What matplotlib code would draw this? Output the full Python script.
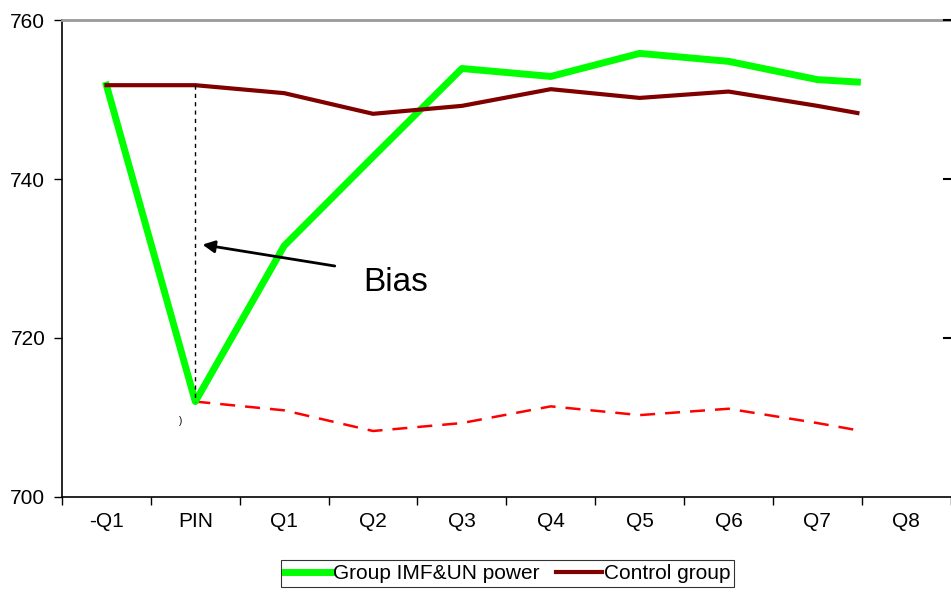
import matplotlib
matplotlib.use("Agg")
import matplotlib.pyplot as plt

# categories and series
categories = ["-Q1", "PIN", "Q1", "Q2", "Q3", "Q4", "Q5", "Q6", "Q7", "Q8"]
x_pos = [0, 1, 2, 3, 4, 5, 6, 7, 8, 8.45]
imf_un = [751.8, 712.0, 731.6, 742.8, 753.9, 752.9, 755.8, 754.8, 752.5, 752.2]
control = [751.8, 751.8, 750.8, 748.2, 749.2, 751.3, 750.2, 751.0, 749.2, 748.3]
x_shifted = x_pos[1:]
control_shifted = [712.0, 710.9, 708.3, 709.3, 711.4, 710.3, 711.1, 709.3, 708.4]
y_ticks = [700, 720, 740, 760]

plt.rcParams["font.family"] = ["Liberation Sans", "DejaVu Sans"]

fig = plt.figure(figsize=(9.51, 5.92), dpi=100)
ax = fig.add_axes([0.0652, 0.1605, 0.9345, 0.8057])

ax.plot(x_shifted, control_shifted, color="#ff0000", lw=1.8, dashes=(6, 4), zorder=2)
ax.plot(x_pos, imf_un, color="#00ff00", lw=5, label="Group IMF&UN power", zorder=3)
ax.plot(x_pos, control, color="#800000", lw=3, label="Control group", zorder=4)

# bias marker: dashed drop from control to treatment at PIN
ax.plot([x_pos[1], x_pos[1]], [control[1], imf_un[1]], color="black", lw=1,
        dashes=(3, 3), zorder=5)
ax.annotate("", xy=(1.05, 731.8), xytext=(2.6, 729.0),
            arrowprops=dict(arrowstyle="-|>", color="black", lw=2,
                            mutation_scale=18))
ax.text(3.25, 727.0, "Bias", fontsize=24, ha="center", va="center")
ax.text(0.84, 709.5, ")", fontsize=7, ha="center", va="center")

ax.set_xlim(-0.5, 9.5)
ax.set_ylim(700, 760)
ax.set_xticks(range(len(categories)))
ax.set_xticklabels(categories, fontsize=15)
ax.set_xticks([k + 0.5 for k in range(-1, 10)], minor=True)
ax.tick_params(axis="x", which="major", length=0, pad=11)
ax.tick_params(axis="x", which="minor", length=6, width=1, direction="out")
ax.set_yticks(y_ticks)
ax.set_yticklabels([str(v) for v in y_ticks], fontsize=15)
ax.tick_params(axis="y", length=6, width=1, direction="out", pad=6)

# short inward ticks at the (cut off) right edge
for v in y_ticks[1:]:
    ax.plot([9.43, 9.5], [v, v], color="black", lw=1.5, clip_on=False, zorder=6)

ax.spines["top"].set_color("#999999")
ax.spines["top"].set_linewidth(2)
ax.spines["right"].set_visible(False)
ax.spines["left"].set_linewidth(1.2)
ax.spines["bottom"].set_linewidth(1.2)

leg = fig.legend(loc="upper center", bbox_to_anchor=(0.5336, 0.054), ncol=2,
                 fontsize=15, frameon=True, fancybox=False, handlelength=2.2,
                 handletextpad=0.1, columnspacing=0.8, borderpad=0.2,
                 borderaxespad=0)
leg.get_frame().set_edgecolor("black")
leg.get_frame().set_linewidth(0.8)

fig.savefig("out.png", dpi=100)
